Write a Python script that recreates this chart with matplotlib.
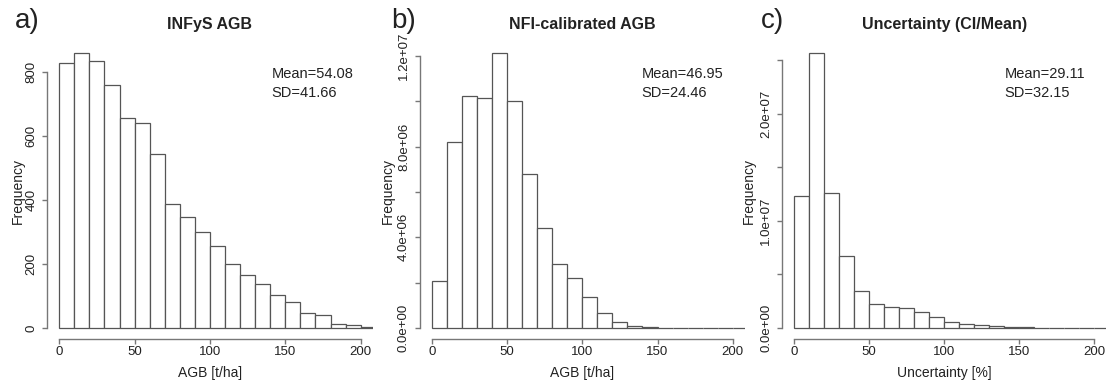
import matplotlib
matplotlib.use('Agg')
import matplotlib.pyplot as plt
import numpy as np

W, H = 1111, 381
plt.rcParams['font.family'] = ['Liberation Sans', 'DejaVu Sans']

# histogram bins (10 t/ha or 10 % wide)
bin_edges = np.arange(0, 220, 10)

# a) INFyS AGB, counts per bin
infys_counts = [826, 857, 835, 759, 655, 640, 543, 388, 348, 301, 255,
                201, 167, 137, 104, 80, 47, 40, 14, 8, 4]
# b) NFI-calibrated AGB, counts per bin
nfi_counts = [2.07e6, 8.18e6, 10.24e6, 10.12e6, 12.10e6, 9.99e6, 6.81e6,
              4.42e6, 2.81e6, 2.20e6, 1.36e6, 0.66e6, 0.25e6, 0.09e6,
              0.03e6, 0.015e6, 0.005e6, 0.002e6, 0.001e6, 0.0, 0.0]
# c) uncertainty, counts per bin
unc_counts = [1.235e7, 2.563e7, 1.263e7, 0.672e7, 0.348e7, 0.224e7, 0.193e7,
              0.187e7, 0.149e7, 0.100e7, 0.059e7, 0.037e7, 0.025e7, 0.016e7,
              0.009e7, 0.006e7, 0.004e7, 0.003e7, 0.002e7, 0.002e7, 0.001e7]

titles = ['INFyS AGB', 'NFI-calibrated AGB', 'Uncertainty (CI/Mean)']
panel_tags = ['a)', 'b)', 'c)']
x_labels = ['AGB [t/ha]', 'AGB [t/ha]', 'Uncertainty [%]']
mean_text = ['Mean=54.08', 'Mean=46.95', 'Mean=29.11']
sd_text = ['SD=41.66', 'SD=24.46', 'SD=32.15']

x_ticks = [0, 50, 100, 150, 200]
y_ticks_a = [0, 200, 400, 600, 800]
y_labels_a = ['0', '200', '400', '600', '800']
y_ticks_b = [0, 2e6, 4e6, 6e6, 8e6, 1e7, 1.2e7]
y_labels_b = ['0.0e+00', '', '4.0e+06', '', '8.0e+06', '', '1.2e+07']
y_ticks_c = [0, 5e6, 1e7, 1.5e7, 2e7, 2.5e7]
y_labels_c = ['0.0e+00', '', '1.0e+07', '', '2.0e+07', '']

counts_all = [infys_counts, nfi_counts, unc_counts]
yticks_all = [y_ticks_a, y_ticks_b, y_ticks_c]
ylabels_all = [y_labels_a, y_labels_b, y_labels_c]

# pixel layout (left edge of plot region, width, ylabel x, tag x, stats x)
ax_left = [47.2, 419.7, 782.0]
ax_width = [325.5, 325.1, 324.4]
ylab_x = [18, 388, 749]
tag_x = [15, 391.7, 760.7]
stats_x = [271.7, 641.7, 1004.3]
ax_top, ax_bot = 42.5, 339.0

TXT = '#222222'
AXC = '#777777'
EDGE = '#555555'

fig = plt.figure(figsize=(W / 100, H / 100), dpi=100)
fig.patch.set_facecolor('white')

for i in range(3):
    ax = fig.add_axes([ax_left[i] / W, 1 - ax_bot / H,
                       ax_width[i] / W, (ax_bot - ax_top) / H])
    counts = np.asarray(counts_all[i], dtype=float)
    m = counts.max()
    ax.bar(bin_edges[:-1], counts, width=10, align='edge',
           facecolor='white', edgecolor=EDGE, linewidth=0.9)
    ax.set_xlim(-8, 208)
    ax.set_ylim(-0.04 * m, 1.04 * m)

    for s in ['top', 'right']:
        ax.spines[s].set_visible(False)
    for s in ['left', 'bottom']:
        ax.spines[s].set_color(AXC)
        ax.spines[s].set_linewidth(1.0)
    ax.spines['bottom'].set_bounds(0, 200)
    ax.spines['left'].set_bounds(0, yticks_all[i][-1])

    ax.set_xticks(x_ticks)
    ax.set_xticklabels([str(t) for t in x_ticks], fontsize=9.5, color=TXT)
    ax.set_yticks(yticks_all[i])
    ax.set_yticklabels(ylabels_all[i], fontsize=9.5, color=TXT,
                       rotation=90, va='center')
    ax.tick_params(axis='both', direction='out', length=3.5, width=1.0,
                   color=AXC)
    ax.tick_params(axis='x', pad=1.5)
    ax.tick_params(axis='y', pad=3.5)

    cx = (ax_left[i] + ax_width[i] / 2) / W
    fig.text(cx, 1 - 373 / H, x_labels[i], ha='center', va='center',
             fontsize=10, color=TXT)
    fig.text(ylab_x[i] / W, 1 - 190.7 / H, 'Frequency', rotation=90,
             ha='center', va='center', fontsize=10, color=TXT)
    ax.set_title(titles[i], fontsize=11.5, fontweight='bold', color=TXT,
                 pad=9.7)
    fig.text(tag_x[i] / W, 1 - 28.5 / H, panel_tags[i], ha='left',
             va='baseline', fontsize=20, color=TXT)
    fig.text(stats_x[i] / W, 1 - 74 / H, mean_text[i], ha='left',
             va='center', fontsize=10.5, color=TXT)
    fig.text(stats_x[i] / W, 1 - 92.7 / H, sd_text[i], ha='left',
             va='center', fontsize=10.5, color=TXT)

fig.savefig('out.png', dpi=100, facecolor='white')
